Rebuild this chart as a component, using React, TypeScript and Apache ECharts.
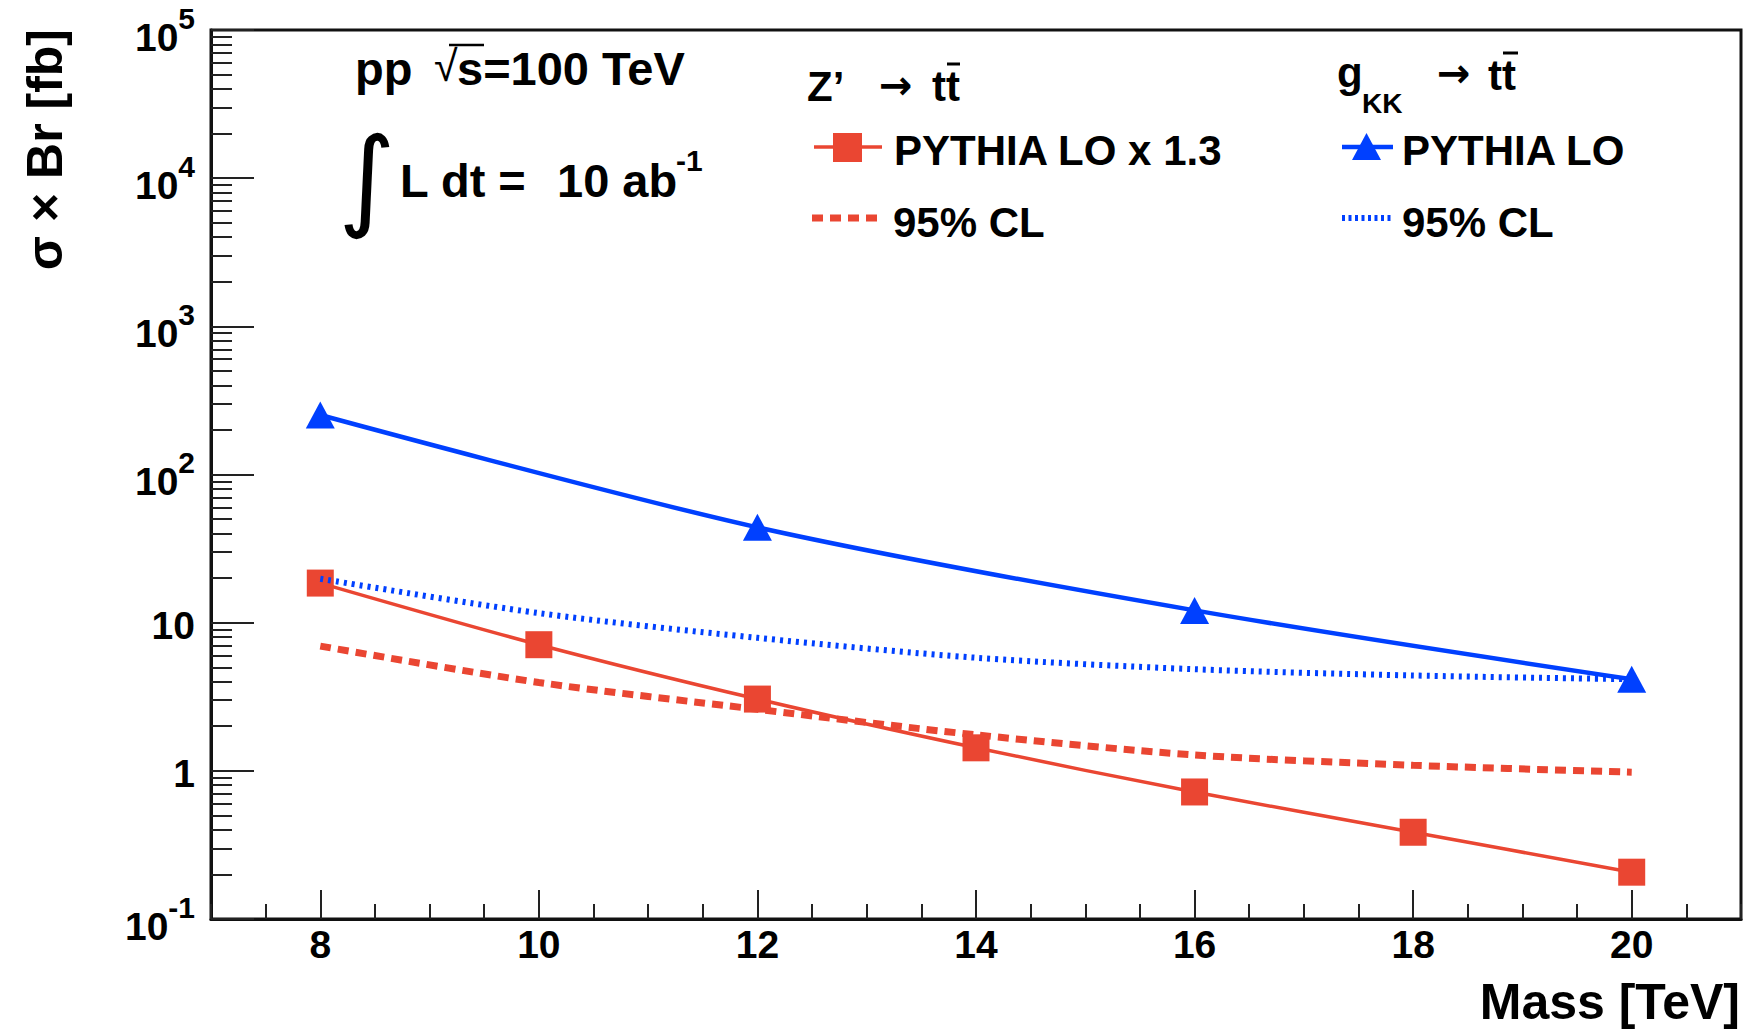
import React, { useEffect, useRef } from 'react';
import * as echarts from 'echarts';

// ---------- data ----------
const massPoints = [8, 10, 12, 14, 16, 18, 20];
const zPrimeXsec = [18.5, 7.1, 3.05, 1.43, 0.72, 0.385, 0.207];
const zPrimeLimit = [6.95, 3.95, 2.6, 1.75, 1.28, 1.09, 0.98];
const gkkMassPoints = [8, 12, 16, 20];
const gkkXsec = [252, 44, 12.1, 4.15];
const gkkLimit = [19.8, 11.6, 7.9, 5.8, 4.85, 4.4, 4.15];

// ---------- axes ----------
const xMin = 7;
const xMax = 21;
const xMajorTicks = [8, 10, 12, 14, 16, 18, 20];
const xMinorTicks = [7, 7.5, 8, 8.5, 9, 9.5, 10, 10.5, 11, 11.5, 12, 12.5, 13, 13.5, 14, 14.5, 15, 15.5, 16, 16.5, 17, 17.5, 18, 18.5, 19, 19.5, 20, 20.5, 21];
const yMin = 0.1;
const yMax = 100000;
const yMajorTicks = [0.1, 1, 10, 100, 1000, 10000, 100000];
const yTickBase = ['10', '1', '10', '10', '10', '10', '10'];
const yTickExponent = ['-1', '', '', '2', '3', '4', '5'];
const yMinorMultipliers = [2, 3, 4, 5, 6, 7, 8, 9];

const RED = '#EA4632';
const BLUE = '#0040FF';
const FONT = '"Liberation Sans", Arial, Helvetica, sans-serif';

const zip = (xs: number[], ys: number[]) => xs.map((x, i) => [x, ys[i]]);

const yMinorTicks: number[] = [];
yMajorTicks.slice(0, -1).forEach((d) => yMinorMultipliers.forEach((m) => yMinorTicks.push(d * m)));

function txt(text: string, x: number, y: number, size: number, extra: any = {}) {
  const align = extra.align || 'left';
  return {
    type: 'text',
    x,
    y,
    z: 20,
    rotation: extra.rotation || 0,
    style: {
      text,
      fontSize: size,
      fontWeight: extra.fontWeight || 'bold',
      fontFamily: extra.fontFamily || FONT,
      fill: '#000',
      align,
      textAlign: align,
      verticalAlign: 'middle',
      textVerticalAlign: 'middle',
    },
  };
}

function seg(x1: number, y1: number, x2: number, y2: number, color: string, width: number, dash?: number[]) {
  return {
    type: 'line',
    z: 20,
    shape: { x1, y1, x2, y2 },
    style: { stroke: color, lineWidth: width, lineDash: dash, lineCap: 'butt' },
  };
}

export default function App() {
  const ref = useRef<HTMLDivElement>(null);

  useEffect(() => {
    if (!ref.current) return;
    const chart = echarts.init(ref.current, null, { renderer: 'svg' });

    const labelFor = (v: number) => {
      const i = yMajorTicks.findIndex((t) => Math.abs(Math.log10(t) - Math.log10(v)) < 1e-6);
      if (i < 0) return '';
      const e = yTickExponent[i];
      return e ? `{b|${yTickBase[i]}}{s|${e}}` : `{c|${yTickBase[i]}}`;
    };

    const option: any = {
      animation: false,
      backgroundColor: '#fff',
      textStyle: { fontFamily: FONT },
      grid: {
        left: 211,
        top: 30,
        right: 17,
        bottom: 111,
        show: true,
        borderColor: '#111',
        borderWidth: 3,
        backgroundColor: 'transparent',
        outerBoundsMode: 'none',
        containLabel: false,
      },
      xAxis: [
        {
          type: 'value',
          min: xMin,
          max: xMax,
          position: 'bottom',
          axisLine: { show: true, onZero: false, lineStyle: { color: '#111', width: 3 } },
          axisTick: { show: true, inside: true, length: 29, customValues: xMajorTicks, lineStyle: { color: '#222', width: 2 } },
          axisLabel: {
            show: true,
            customValues: xMajorTicks,
            margin: 6,
            fontSize: 39,
            fontWeight: 'bold',
            fontFamily: FONT,
            color: '#000',
          },
          splitLine: { show: false },
        },
        {
          type: 'value',
          min: xMin,
          max: xMax,
          position: 'bottom',
          axisLine: { show: false, onZero: false },
          axisTick: { show: true, inside: true, length: 15, customValues: xMinorTicks, lineStyle: { color: '#222', width: 2 } },
          axisLabel: { show: false },
          splitLine: { show: false },
        },
      ],
      yAxis: [
        {
          type: 'log',
          logBase: 10,
          min: yMin,
          max: yMax,
          position: 'left',
          axisLine: { show: true, onZero: false, lineStyle: { color: '#111', width: 3 } },
          axisTick: { show: true, inside: true, length: 43, customValues: yMajorTicks, lineStyle: { color: '#222', width: 2 } },
          axisLabel: {
            show: true,
            customValues: yMajorTicks,
            margin: 16,
            formatter: labelFor,
            rich: {
              b: { fontSize: 39, fontWeight: 'bold', fontFamily: FONT, color: '#000', lineHeight: 40, padding: [14, 0, 0, 0] },
              s: { fontSize: 30, fontWeight: 'bold', fontFamily: FONT, color: '#000', lineHeight: 30, padding: [0, 0, 24, 0] },
              c: { fontSize: 39, fontWeight: 'bold', fontFamily: FONT, color: '#000', lineHeight: 40, padding: [6, 0, 0, 0] },
            },
          },
          splitLine: { show: false },
        },
        {
          type: 'log',
          logBase: 10,
          min: yMin,
          max: yMax,
          position: 'left',
          axisLine: { show: false, onZero: false },
          axisTick: { show: true, inside: true, length: 21, customValues: yMinorTicks, lineStyle: { color: '#222', width: 2 } },
          axisLabel: { show: false },
          splitLine: { show: false },
        },
      ],
      series: [
        {
          type: 'line',
          name: 'Z\u2019 PYTHIA LO x 1.3',
          data: zip(massPoints, zPrimeXsec),
          smooth: 0.3,
          symbol: 'rect',
          symbolSize: 27,
          lineStyle: { color: RED, width: 3.5 },
          itemStyle: { color: RED },
          emphasis: { disabled: true },
          z: 3,
        },
        {
          type: 'line',
          name: 'Z\u2019 95% CL',
          data: zip(massPoints, zPrimeLimit),
          smooth: 0.3,
          symbol: 'none',
          lineStyle: { color: RED, width: 7, type: [11, 7], cap: 'butt' },
          emphasis: { disabled: true },
          z: 2,
        },
        {
          type: 'line',
          name: 'gKK PYTHIA LO',
          data: zip(gkkMassPoints, gkkXsec),
          smooth: 0.3,
          symbol: 'triangle',
          symbolSize: [29, 27],
          lineStyle: { color: BLUE, width: 4.5 },
          itemStyle: { color: BLUE },
          emphasis: { disabled: true },
          z: 3,
        },
        {
          type: 'line',
          name: 'gKK 95% CL',
          data: zip(massPoints, gkkLimit),
          smooth: 0.3,
          symbol: 'none',
          lineStyle: { color: BLUE, width: 6, type: [3, 5], cap: 'butt' },
          emphasis: { disabled: true },
          z: 4,
        },
      ],
      graphic: [
        // axis titles
        txt('\u03c3 \u00d7 Br [fb]', 45, 29, 50, { align: 'right', rotation: Math.PI / 2 }),
        txt('Mass [TeV]', 1740, 1002, 50, { align: 'right' }),
        // pp sqrt(s)
        txt('pp', 355, 68, 47),
        txt('\u221a', 434, 66, 43, { fontWeight: 'normal' }),
        seg(449, 45, 484, 45, '#000', 2.5),
        txt('s=100 TeV', 457, 68, 47),
        // luminosity
        txt('\u222b', 367, 178, 110, { align: 'center', fontWeight: 'normal', fontFamily: '"DejaVu Sans", sans-serif' }),
        txt('L dt =', 400, 180, 47),
        txt('10 ab', 557, 180, 47),
        txt('-1', 676, 160, 30),
        // Z' legend block
        txt('Z\u2019', 807, 86, 42),
        txt('\u2192', 879, 85, 40, { fontFamily: '"DejaVu Sans", sans-serif' }),
        txt('tt', 932, 86, 42),
        seg(947, 64, 960, 64, '#000', 3),
        seg(814, 147, 882, 147, RED, 3.5),
        { type: 'rect', z: 21, shape: { x: 833, y: 133, width: 29, height: 29 }, style: { fill: RED } },
        txt('PYTHIA LO x 1.3', 894, 150, 42),
        seg(812, 218, 878, 218, RED, 7, [11, 7]),
        txt('95% CL', 893, 222, 42),
        // gKK legend block
        txt('g', 1337, 72, 42),
        txt('KK', 1362, 103, 28),
        txt('\u2192', 1437, 73, 40, { fontFamily: '"DejaVu Sans", sans-serif' }),
        txt('tt', 1488, 75, 42),
        seg(1503, 53, 1518, 53, '#000', 3),
        seg(1342, 147, 1393, 147, BLUE, 4.5),
        { type: 'polygon', z: 21, shape: { points: [[1366.5, 133], [1352, 160], [1381, 160]] }, style: { fill: BLUE } },
        txt('PYTHIA LO', 1402, 150, 42),
        seg(1342, 218, 1393, 218, BLUE, 6, [3, 3.5]),
        txt('95% CL', 1402, 222, 42),
      ],
    };

    chart.setOption(option);
    return () => chart.dispose();
  }, []);

  return (
    <div
      ref={ref}
      style={{ position: 'absolute', left: 0, top: 0, width: 1758, height: 1030, background: '#fff' }}
    />
  );
}
